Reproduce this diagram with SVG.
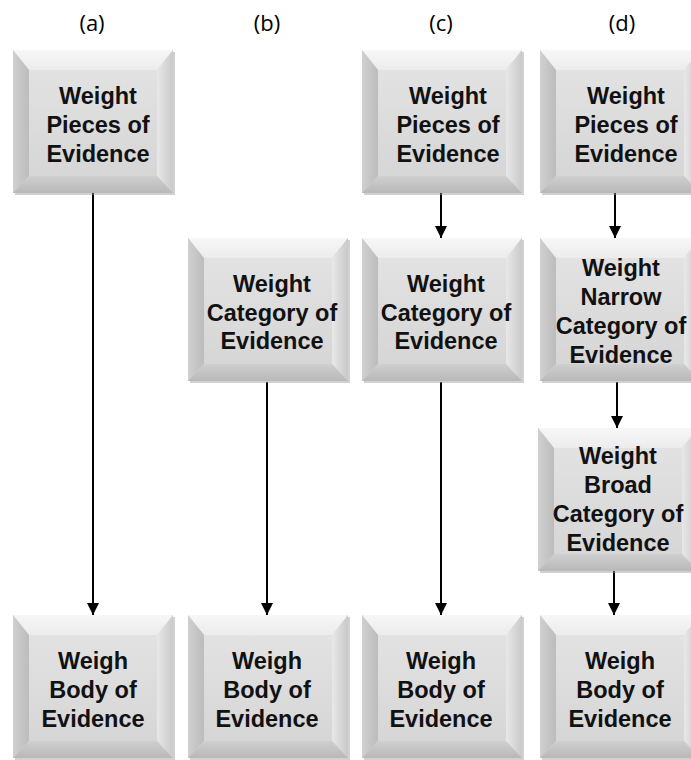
<svg xmlns="http://www.w3.org/2000/svg" xmlns:xlink="http://www.w3.org/1999/xlink" width="691" height="760" viewBox="0 0 691 760">
<style>
.lbl{font-family:"Open Sans","Liberation Sans",sans-serif;font-size:22px;fill:#000;text-anchor:middle}
.t{font-family:"Liberation Sans",Arial,sans-serif;font-weight:bold;font-size:23.5px;fill:#111;text-anchor:middle}
.c{stroke:#000;stroke-width:2;fill:none;marker-end:url(#ah)}
</style>
<defs>
<marker id="ah" viewBox="0 0 12 12" refX="12" refY="6" markerWidth="12" markerHeight="12" markerUnits="userSpaceOnUse" orient="auto">
<path d="M0,0 L12,6 L0,12 Z" fill="#000"/>
</marker>
<linearGradient id="face" x1="0" y1="0" x2="0" y2="1">
<stop offset="0" stop-color="#e2e2e2"/><stop offset="1" stop-color="#d6d6d6"/>
</linearGradient>
<linearGradient id="lb" x1="0" y1="0" x2="1" y2="0">
<stop offset="0" stop-color="#d0d0d0"/><stop offset="1" stop-color="#bcbcbc"/>
</linearGradient>
<linearGradient id="rb" x1="0" y1="0" x2="1" y2="0">
<stop offset="0" stop-color="#e8e8e8"/><stop offset="1" stop-color="#c9c9c9"/>
</linearGradient>
<linearGradient id="tb" x1="0" y1="0" x2="0" y2="1">
<stop offset="0" stop-color="#f7f7f7"/><stop offset="1" stop-color="#ececec"/>
</linearGradient>
<linearGradient id="bb" x1="0" y1="0" x2="0" y2="1">
<stop offset="0" stop-color="#cfcfcf"/><stop offset="1" stop-color="#b8b8b8"/>
</linearGradient>
<g id="box">
<rect x="2" y="2" width="160" height="143" fill="#9a9a9a" opacity="0.45"/>
<rect x="0" y="0" width="160" height="143" fill="url(#face)"/>
<polygon points="0,0 160,0 144,20 16,20" fill="url(#tb)"/>
<polygon points="0,0 16,20 16,126 0,143" fill="url(#lb)"/>
<polygon points="160,0 160,143 144,126 144,20" fill="url(#rb)"/>
<polygon points="0,143 16,126 144,126 160,143" fill="url(#bb)"/>
<rect x="16" y="20" width="128" height="106" fill="url(#face)"/>
</g>
</defs>
<rect width="691" height="760" fill="#fff"/>
<g id="labels">
<text class="lbl" x="92" y="31">(a)</text>
<text class="lbl" x="267" y="31">(b)</text>
<text class="lbl" x="441" y="31">(c)</text>
<text class="lbl" x="622" y="31">(d)</text>
</g>
<g id="connectors">
<line class="c" x1="93" y1="193" x2="93" y2="615"/>
<line class="c" x1="267" y1="382" x2="267" y2="615"/>
<line class="c" x1="441" y1="193" x2="441" y2="238"/>
<line class="c" x1="441" y1="382" x2="441" y2="615"/>
<line class="c" x1="615" y1="193" x2="615" y2="238"/>
<line class="c" x1="617" y1="382" x2="617" y2="428"/>
<line class="c" x1="614" y1="570" x2="614" y2="615"/>
</g>
<g id="a-top"><use xlink:href="#box" x="13" y="50"/>
<text class="t"><tspan x="98" y="104">Weight</tspan><tspan x="98" y="133">Pieces of</tspan><tspan x="98" y="162">Evidence</tspan></text></g>
<g id="c-top"><use xlink:href="#box" x="362" y="50"/>
<text class="t"><tspan x="448" y="104">Weight</tspan><tspan x="448" y="133">Pieces of</tspan><tspan x="448" y="162">Evidence</tspan></text></g>
<g id="d-top"><use xlink:href="#box" x="540" y="50"/>
<text class="t"><tspan x="626" y="104">Weight</tspan><tspan x="626" y="133">Pieces of</tspan><tspan x="626" y="162">Evidence</tspan></text></g>
<g id="b-mid"><use xlink:href="#box" x="188" y="238"/>
<text class="t"><tspan x="272" y="292">Weight</tspan><tspan x="272" y="321">Category of</tspan><tspan x="272" y="349">Evidence</tspan></text></g>
<g id="c-mid"><use xlink:href="#box" x="362" y="238"/>
<text class="t"><tspan x="446" y="292">Weight</tspan><tspan x="446" y="321">Category of</tspan><tspan x="446" y="349">Evidence</tspan></text></g>
<g id="d-narrow"><use xlink:href="#box" x="540" y="238"/>
<text class="t"><tspan x="621" y="276">Weight</tspan><tspan x="621" y="305">Narrow</tspan><tspan x="621" y="334">Category of</tspan><tspan x="621" y="363">Evidence</tspan></text></g>
<g id="d-broad"><use xlink:href="#box" x="538" y="428"/>
<text class="t"><tspan x="618" y="464">Weight</tspan><tspan x="618" y="493">Broad</tspan><tspan x="618" y="522">Category of</tspan><tspan x="618" y="551">Evidence</tspan></text></g>
<g id="a-bot"><use xlink:href="#box" x="13" y="615"/>
<text class="t"><tspan x="93" y="669">Weigh</tspan><tspan x="93" y="698">Body of</tspan><tspan x="93" y="727">Evidence</tspan></text></g>
<g id="b-bot"><use xlink:href="#box" x="188" y="615"/>
<text class="t"><tspan x="267" y="669">Weigh</tspan><tspan x="267" y="698">Body of</tspan><tspan x="267" y="727">Evidence</tspan></text></g>
<g id="c-bot"><use xlink:href="#box" x="362" y="615"/>
<text class="t"><tspan x="441" y="669">Weigh</tspan><tspan x="441" y="698">Body of</tspan><tspan x="441" y="727">Evidence</tspan></text></g>
<g id="d-bot"><use xlink:href="#box" x="540" y="615"/>
<text class="t"><tspan x="620" y="669">Weigh</tspan><tspan x="620" y="698">Body of</tspan><tspan x="620" y="727">Evidence</tspan></text></g>
</svg>
